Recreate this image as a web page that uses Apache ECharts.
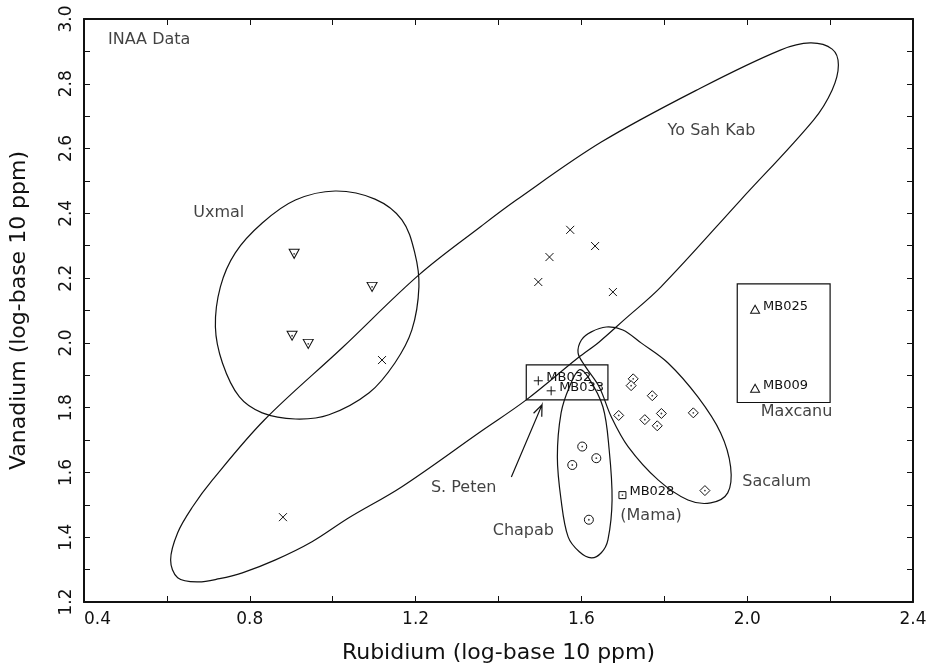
<!DOCTYPE html>
<html>
<head>
<meta charset="utf-8">
<title>INAA Data - Rubidium vs Vanadium</title>
<script src="https://cdn.jsdelivr.net/npm/echarts@6.0.0/dist/echarts.min.js"></script>
<style>
  html, body { margin: 0; padding: 0; background: #fff; }
  #main { width: 933px; height: 671px; }
</style>
</head>
<body>
<div id="main"></div>
<script>
// samples, log10 ppm
var yoSahKabRb = [1.573, 1.523, 1.633, 1.496, 1.676, 1.119, 0.880];
var yoSahKabV  = [2.349, 2.265, 2.299, 2.188, 2.157, 1.947, 1.462];
var uxmalRb = [0.907, 1.095, 0.902, 0.941];
var uxmalV  = [2.275, 2.173, 2.022, 1.997];
var petenIds = ['MB032', 'MB033'];
var petenRb  = [1.496, 1.527];
var petenV   = [1.883, 1.852];
var sacalumRb = [1.725, 1.720, 1.771, 1.690, 1.753, 1.793, 1.783, 1.870, 1.898];
var sacalumV  = [1.889, 1.868, 1.837, 1.776, 1.763, 1.782, 1.744, 1.784, 1.544];
var chapabRb = [1.602, 1.636, 1.578, 1.618];
var chapabV  = [1.680, 1.644, 1.623, 1.454];
var mamaIds = ['MB028'];
var mamaRb  = [1.699];
var mamaV   = [1.530];
var maxcanuIds = ['MB025', 'MB009'];
var maxcanuRb  = [2.019, 2.019];
var maxcanuV   = [2.104, 1.860];

// group outlines [Rb, V]
var yoSahKabOutline = [
  [0.609, 1.330], [0.626, 1.414], [0.662, 1.494], [0.710, 1.577], [0.835, 1.762],
  [1.023, 1.985], [1.208, 2.210], [1.359, 2.361], [1.443, 2.441], [1.648, 2.620],
  [1.888, 2.787], [2.080, 2.904], [2.152, 2.926], [2.205, 2.907], [2.220, 2.858],
  [2.205, 2.781], [2.160, 2.688], [1.984, 2.441], [1.792, 2.173], [1.703, 2.071],
  [1.643, 2.003], [1.592, 1.954], [1.467, 1.824], [1.359, 1.728], [1.167, 1.556],
  [1.039, 1.460], [0.950, 1.386], [0.862, 1.330], [0.782, 1.290], [0.727, 1.272],
  [0.674, 1.262], [0.626, 1.275]
];
var uxmalOutline = [
  [1.006, 2.469], [1.102, 2.444], [1.167, 2.380], [1.198, 2.278], [1.208, 2.173],
  [1.191, 2.040], [1.150, 1.938], [1.088, 1.846], [0.991, 1.778], [0.910, 1.765],
  [0.830, 1.784], [0.775, 1.833], [0.734, 1.938], [0.717, 2.049], [0.729, 2.173],
  [0.765, 2.278], [0.830, 2.370], [0.910, 2.441]
];
var sacalumOutline = [
  [1.660, 2.049], [1.700, 2.040], [1.744, 2.000], [1.809, 1.938], [1.881, 1.833],
  [1.936, 1.722], [1.960, 1.617], [1.953, 1.537], [1.912, 1.506], [1.857, 1.515],
  [1.785, 1.577], [1.713, 1.679], [1.672, 1.772], [1.643, 1.864], [1.607, 1.932],
  [1.592, 1.969], [1.600, 2.009], [1.624, 2.034]
];
var chapabOutline = [
  [1.595, 1.917], [1.616, 1.895], [1.652, 1.802], [1.667, 1.670], [1.674, 1.515],
  [1.664, 1.392], [1.648, 1.352], [1.624, 1.336], [1.595, 1.355], [1.568, 1.401],
  [1.551, 1.515], [1.542, 1.648], [1.551, 1.784], [1.571, 1.864]
];
var petenBox   = [[1.467, 1.824], [1.664, 1.932]];
var maxcanuBox = [[1.976, 1.816], [2.200, 2.182]];
var petenArrow = [[1.431, 1.586], [1.505, 1.809]];

var groupLabels = ['INAA Data', 'Yo Sah Kab', 'Uxmal', 'S. Peten', 'Chapab', '(Mama)', 'Sacalum', 'Maxcanu'];
var groupLabelRb = [0.458, 1.914, 0.725, 1.316, 1.460, 1.768, 2.071, 2.119];
var groupLabelV  = [2.935, 2.654, 2.401, 1.552, 1.420, 1.466, 1.571, 1.787];

var INK = '#111';
var FONT = 'DejaVu Sans';

function zip(xs, ys, ids) {
  return xs.map(function (x, i) {
    var d = { value: [x, ys[i]] };
    if (ids) d.name = ids[i];
    return d;
  });
}

function outline(pts) {
  return {
    type: 'custom',
    silent: true,
    data: [[pts[0][0], pts[0][1]]],
    renderItem: function (params, api) {
      return {
        type: 'polygon',
        shape: { points: pts.map(function (p) { return api.coord(p); }), smooth: 0.35 },
        style: { fill: 'none', stroke: INK, lineWidth: 1.2 }
      };
    }
  };
}

function box(corners) {
  return {
    type: 'custom',
    silent: true,
    data: [[corners[0][0], corners[0][1]]],
    renderItem: function (params, api) {
      var a = api.coord(corners[0]);
      var b = api.coord(corners[1]);
      return {
        type: 'rect',
        shape: { x: a[0], y: b[1], width: b[0] - a[0], height: a[1] - b[1] },
        style: { fill: 'none', stroke: INK, lineWidth: 1.2 }
      };
    }
  };
}

function arrow(seg) {
  return {
    type: 'custom',
    silent: true,
    data: [[seg[0][0], seg[0][1]]],
    renderItem: function (params, api) {
      var p0 = api.coord(seg[0]);
      var p1 = api.coord(seg[1]);
      var ang = Math.atan2(p1[1] - p0[1], p1[0] - p0[0]);
      var len = 12, spread = 0.38;
      var h1 = [p1[0] - len * Math.cos(ang - spread), p1[1] - len * Math.sin(ang - spread)];
      var h2 = [p1[0] - len * Math.cos(ang + spread), p1[1] - len * Math.sin(ang + spread)];
      return {
        type: 'polyline',
        shape: { points: [p0, p1, h1, p1, h2] },
        style: { fill: 'none', stroke: INK, lineWidth: 1.2 }
      };
    }
  };
}

function points(data, symbol, size, withLabel) {
  return {
    type: 'scatter',
    data: data,
    symbol: symbol,
    symbolSize: size,
    itemStyle: { color: '#fff', borderColor: INK, borderWidth: 1, opacity: 1 },
    label: {
      show: !!withLabel,
      position: 'right',
      distance: 3,
      offset: [0, -3],
      formatter: '{b}',
      color: INK,
      fontFamily: FONT,
      fontSize: 13
    },
    z: 5
  };
}

function dots(data) {
  return {
    type: 'scatter',
    data: data,
    symbol: 'circle',
    symbolSize: 1.8,
    itemStyle: { color: INK },
    silent: true,
    z: 6
  };
}

function tickLabel(v) { return v.toFixed(1); }

var chart = echarts.init(document.getElementById('main'));

var axisLine = { onZero: false, lineStyle: { color: INK, width: 2 } };
var axisTick = { inside: true, length: 6, lineStyle: { color: INK, width: 1 } };
var minorTick = { show: true, splitNumber: 2, length: 6, lineStyle: { color: INK, width: 1 } };

var option = {
  backgroundColor: '#fff',
  animation: false,
  textStyle: { fontFamily: FONT },
  grid: { left: 81, right: 20, top: 19, bottom: 69 },
  xAxis: [{
    type: 'value', min: 0.4, max: 2.4, interval: 0.4, position: 'bottom',
    axisLine: axisLine, axisTick: axisTick, minorTick: minorTick,
    splitLine: { show: false },
    axisLabel: { formatter: tickLabel, color: INK, fontFamily: FONT, fontSize: 17, margin: 9, alignMinLabel: 'left' },
    name: 'Rubidium (log-base 10 ppm)', nameLocation: 'middle', nameGap: 40,
    nameTextStyle: { color: INK, fontFamily: FONT, fontSize: 22 }
  }, {
    type: 'value', min: 0.4, max: 2.4, interval: 0.4, position: 'top',
    axisLine: axisLine, axisTick: axisTick, minorTick: minorTick,
    splitLine: { show: false }, axisLabel: { show: false }
  }],
  yAxis: [{
    type: 'value', min: 1.2, max: 3.0, interval: 0.2, position: 'left',
    axisLine: axisLine, axisTick: axisTick, minorTick: minorTick,
    splitLine: { show: false },
    axisLabel: { formatter: tickLabel, color: INK, fontFamily: FONT, fontSize: 17, rotate: 90, margin: 9 },
    name: 'Vanadium (log-base 10 ppm)', nameLocation: 'middle', nameGap: 54,
    nameTextStyle: { color: INK, fontFamily: FONT, fontSize: 22 }
  }, {
    type: 'value', min: 1.2, max: 3.0, interval: 0.2, position: 'right',
    axisLine: axisLine, axisTick: axisTick, minorTick: minorTick,
    splitLine: { show: false }, axisLabel: { show: false }
  }],
  series: [
    outline(yoSahKabOutline),
    outline(uxmalOutline),
    outline(sacalumOutline),
    outline(chapabOutline),
    box(petenBox),
    box(maxcanuBox),
    arrow(petenArrow),
    points(zip(yoSahKabRb, yoSahKabV), 'path://M0,0L8,8M8,0L0,8', 8),
    points(zip(uxmalRb, uxmalV), 'path://M0,0L10,0L5,9Z', [10, 9]),
    dots(zip(uxmalRb, uxmalV)),
    points(zip(petenRb, petenV, petenIds), 'path://M4,0L4,8M0,4L8,4', 9, true),
    points(zip(sacalumRb, sacalumV), 'diamond', 10),
    dots(zip(sacalumRb, sacalumV)),
    points(zip(chapabRb, chapabV), 'circle', 9),
    dots(zip(chapabRb, chapabV)),
    points(zip(mamaRb, mamaV, mamaIds), 'rect', 7, true),
    dots(zip(mamaRb, mamaV)),
    points(zip(maxcanuRb, maxcanuV, maxcanuIds), 'triangle', [9, 8], true),
    {
      type: 'scatter',
      silent: true,
      symbolSize: 0,
      data: groupLabels.map(function (t, i) {
        return {
          name: t,
          value: [groupLabelRb[i], groupLabelV[i]],
          label: { align: i === 0 ? 'left' : 'center' }
        };
      }),
      label: {
        show: true, position: 'inside', formatter: '{b}',
        color: INK, fontFamily: FONT, fontSize: 16
      },
      z: 7
    }
  ]
};

chart.setOption(option);
</script>
</body>
</html>
